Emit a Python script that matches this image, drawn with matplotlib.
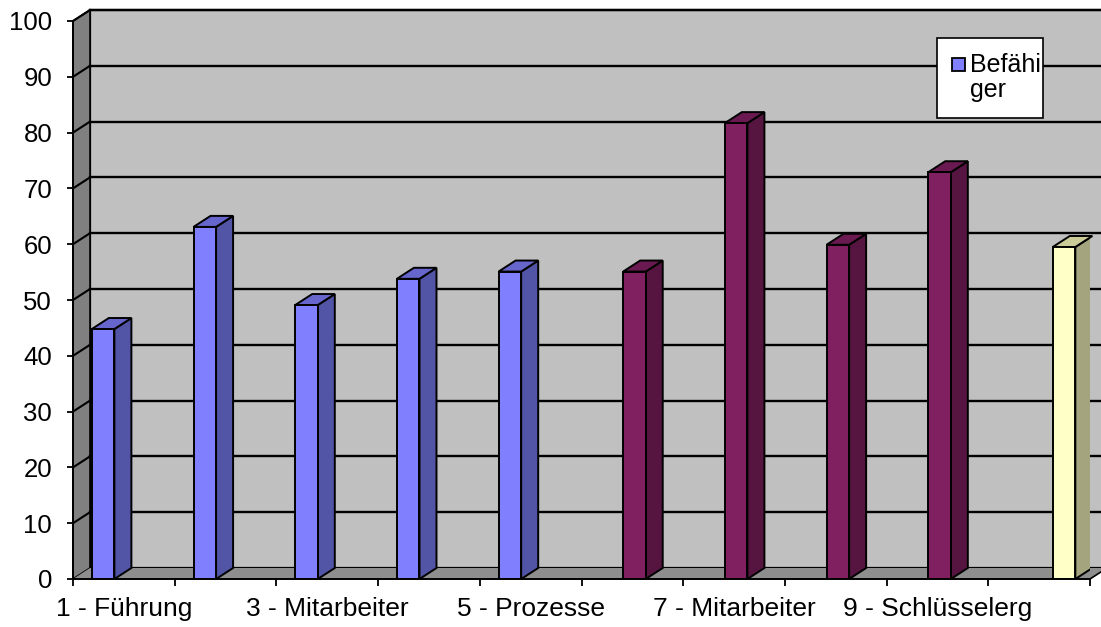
import numpy as np
import matplotlib.pyplot as plt
from matplotlib.patches import Rectangle, Polygon

plt.rcParams['font.family'] = ['Liberation Sans', 'DejaVu Sans']

# categories (only every second label is shown in the original)
tick_labels = ["1 - Führung", "", "3 - Mitarbeiter", "", "5 - Prozesse", "",
               "7 - Mitarbeiter", "", "9 - Schlüsselerg", ""]

# three series, each one filled only for its own categories
befaehiger = [44.8, 63.1, 49.1, 53.8, 55.1, np.nan, np.nan, np.nan, np.nan, np.nan]
ergebnisse = [np.nan, np.nan, np.nan, np.nan, np.nan, 55.1, 81.7, 59.9, 72.9, np.nan]
gesamt = [np.nan] * 9 + [59.5]

series = [befaehiger, ergebnisse, gesamt]
# front, side, top colours per series
colors = [("#8080FF", "#5254A5", "#6666CC"),
          ("#802060", "#551540", "#6A1A50"),
          ("#FFFFC8", "#A4A47E", "#CCCC99")]

W, H = 1101, 627
fig = plt.figure(figsize=(W / 100, H / 100), dpi=100)
ax = fig.add_axes([73 / W, 1 - 579 / H, (1090 - 73) / W, (579 - 21) / H])
ax.set_xlim(0, 10)
ax.set_ylim(0, 100)

# depth of the 3d box in data units
DX = 17 / 101.7
DY = 11 / 5.58

# walls and floor
ax.add_patch(Rectangle((DX, DY), 10, 100, fc="#C0C0C0", ec="black", lw=1.6,
                       clip_on=False, zorder=0))
ax.add_patch(Polygon([(0, 0), (DX, DY), (DX, 100 + DY), (0, 100)], closed=True,
                     fc="#808080", ec="black", lw=1.2, clip_on=False, zorder=1))
ax.add_patch(Polygon([(0, 0), (10, 0), (10 + DX, DY), (DX, DY)], closed=True,
                     fc="#8E8E8E", ec="none", clip_on=False, zorder=1))
ax.plot([10, 10 + DX], [0, DY], color="black", lw=1.2, clip_on=False, zorder=1)

# gridlines on the back wall and the side wall
for v in range(10, 101, 10):
    ax.plot([DX, 10 + DX], [v + DY, v + DY], color="black", lw=1.7,
            clip_on=False, zorder=2)
    ax.plot([0, DX], [v, v + DY], color="black", lw=1.5, clip_on=False, zorder=2)

# 3d columns
bw = 0.222
for s, vals in enumerate(series):
    front, side, top = colors[s]
    for i, v in enumerate(vals):
        if np.isnan(v):
            continue
        x0 = i + 0.185 + s * 0.2245
        x1 = x0 + bw
        ax.add_patch(Polygon([(x1, 0), (x1 + DX, DY), (x1 + DX, v + DY), (x1, v)],
                             closed=True, fc=side, ec="black", lw=1.4, zorder=4))
        ax.add_patch(Polygon([(x0, v), (x0 + DX, v + DY), (x1 + DX, v + DY), (x1, v)],
                             closed=True, fc=top, ec="black", lw=1.4, zorder=4,
                             clip_on=False))
        ax.add_patch(Rectangle((x0, 0), bw, v, fc=front, ec="black", lw=1.4,
                               zorder=5))

# axes
for sp in ["top", "right"]:
    ax.spines[sp].set_visible(False)
for sp in ["left", "bottom"]:
    ax.spines[sp].set_linewidth(1.4)
    ax.spines[sp].set_zorder(6)

ax.set_yticks(range(0, 101, 10))
ax.tick_params(axis="y", length=4, width=1.3, pad=11, labelsize=18.5)
ax.set_xticks(range(0, 11))
ax.set_xticklabels([])
ax.set_xticks(np.arange(10) + 0.5, minor=True)
ax.set_xticklabels(tick_labels, minor=True)
ax.tick_params(axis="x", which="major", length=5, width=1.3, direction="out")
ax.tick_params(axis="x", which="minor", length=0, pad=13, labelsize=19)

# legend box (only the first entry fits, as in the original)
fig.add_artist(Rectangle((937 / W, 1 - 118 / H), 106 / W, 80 / H,
                         transform=fig.transFigure, fc="white", ec="black", lw=1.2))
fig.add_artist(Rectangle((952 / W, 1 - 71 / H), 13 / W, 13 / H,
                         transform=fig.transFigure, fc=colors[0][0], ec="black", lw=1.3))
fig.text(970 / W, 1 - 53 / H, "Befähi\nger", fontsize=18, ha="left",
         va="top", linespacing=1.05)

fig.savefig("out.png", dpi=100)
